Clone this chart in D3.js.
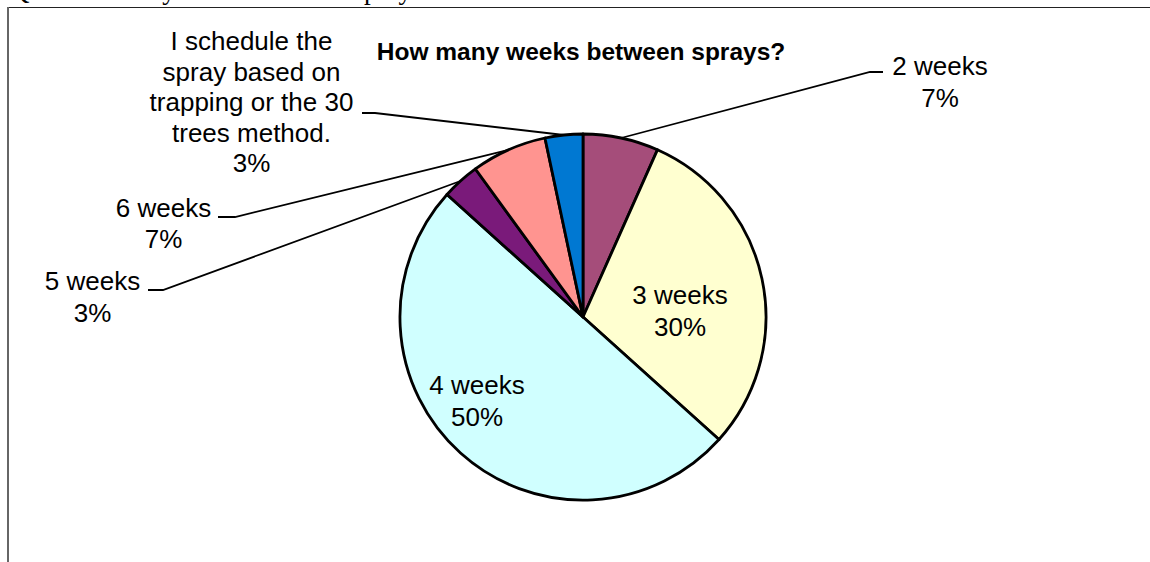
<!DOCTYPE html>
<html>
<head>
<meta charset="utf-8">
<script src="https://cdn.jsdelivr.net/npm/d3@7"></script>
<style>
  html, body { margin: 0; padding: 0; background: #fff; }
  svg { display: block; }
</style>
</head>
<body>
<svg id="chart" width="1150" height="562"></svg>
<script>
// ---- data ----
const categories = ["2 weeks", "3 weeks", "4 weeks", "5 weeks", "6 weeks",
  "I schedule the spray based on trapping or the 30 trees method."];
const counts = [2, 9, 15, 1, 2, 1];
const percentLabels = ["7%", "30%", "50%", "3%", "7%", "3%"];
const labelLines = [
  ["2 weeks"], ["3 weeks"], ["4 weeks"], ["5 weeks"], ["6 weeks"],
  ["I schedule the", "spray based on", "trapping or the 30", "trees method."]
];
const colors = ["#A54D7A", "#FFFFD0", "#D0FFFF", "#7A1A7A", "#FF9490", "#0078D2"];
const titleText = "How many weeks between sprays?";
const headerText = "Q6. How many weeks between sprays?";

// ---- layout ----
const W = 1150, H = 562;
const cx = 583, cy = 317, R = 183;
const labelLayout = [
  {x: 940, y: 75, lh: 32, elbow: [870, 72], end: [883, 72]},
  {x: 680, y: 304, lh: 32, inside: true},
  {x: 477, y: 394, lh: 32, inside: true},
  {x: 92.5, y: 290, lh: 32, elbow: [163, 290], end: [148, 290]},
  {x: 163.5, y: 217, lh: 31, elbow: [235, 217], end: [218, 217]},
  {x: 251.5, y: 50, lh: 30.5, elbow: [375, 113], end: [362, 113]}
];

const svg = d3.select("#chart");
const font = "'Liberation Sans', Arial, sans-serif";

// clipped header line from the document above the chart
svg.append("text")
  .attr("x", 10).attr("y", -1)
  .attr("font-family", "'Liberation Serif', 'Times New Roman', serif")
  .attr("font-size", 27)
  .attr("fill", "#000")
  .text(headerText);

// frame
svg.append("line").attr("x1", 8).attr("x2", W).attr("y1", 7.5).attr("y2", 7.5)
  .attr("stroke", "#222").attr("stroke-width", 1.2);
svg.append("line").attr("x1", 8).attr("x2", 8).attr("y1", 7).attr("y2", H)
  .attr("stroke", "#666").attr("stroke-width", 2);

// title
svg.append("text")
  .attr("x", 581).attr("y", 60)
  .attr("text-anchor", "middle")
  .attr("font-family", font)
  .attr("font-weight", "bold")
  .attr("font-size", 24.5)
  .attr("fill", "#000")
  .text(titleText);

const data = categories.map((c, i) => ({cat: c, value: counts[i], pct: percentLabels[i], lines: labelLines[i], i}));

const pie = d3.pie().value(d => d.value).sort(null).startAngle(0).endAngle(2 * Math.PI);
const arcs = pie(data);
const arc = d3.arc().innerRadius(0).outerRadius(R);
const edgeArc = d3.arc().innerRadius(R).outerRadius(R);

const g = svg.append("g").attr("transform", `translate(${cx},${cy})`);

g.selectAll("path.slice").data(arcs).enter().append("path")
  .attr("class", "slice")
  .attr("d", arc)
  .attr("fill", d => colors[d.data.i])
  .attr("stroke", "#000")
  .attr("stroke-width", 2.8)
  .attr("stroke-linejoin", "round");

// leader lines
arcs.forEach(a => {
  const L = labelLayout[a.data.i];
  if (L.inside) return;
  const p = edgeArc.centroid(a);
  const pts = [[p[0] + cx, p[1] + cy], L.elbow, L.end];
  svg.append("path")
    .attr("d", d3.line()(pts))
    .attr("fill", "none")
    .attr("stroke", "#000")
    .attr("stroke-width", 1.8);
});

// labels
arcs.forEach(a => {
  const L = labelLayout[a.data.i];
  const lines = a.data.lines.concat([a.data.pct]);
  const t = svg.append("text")
    .attr("text-anchor", "middle")
    .attr("font-family", font)
    .attr("font-size", 26)
    .attr("fill", "#000");
  lines.forEach((s, k) => {
    t.append("tspan").attr("x", L.x).attr("y", L.y + k * L.lh).text(s);
  });
});
</script>
</body>
</html>
